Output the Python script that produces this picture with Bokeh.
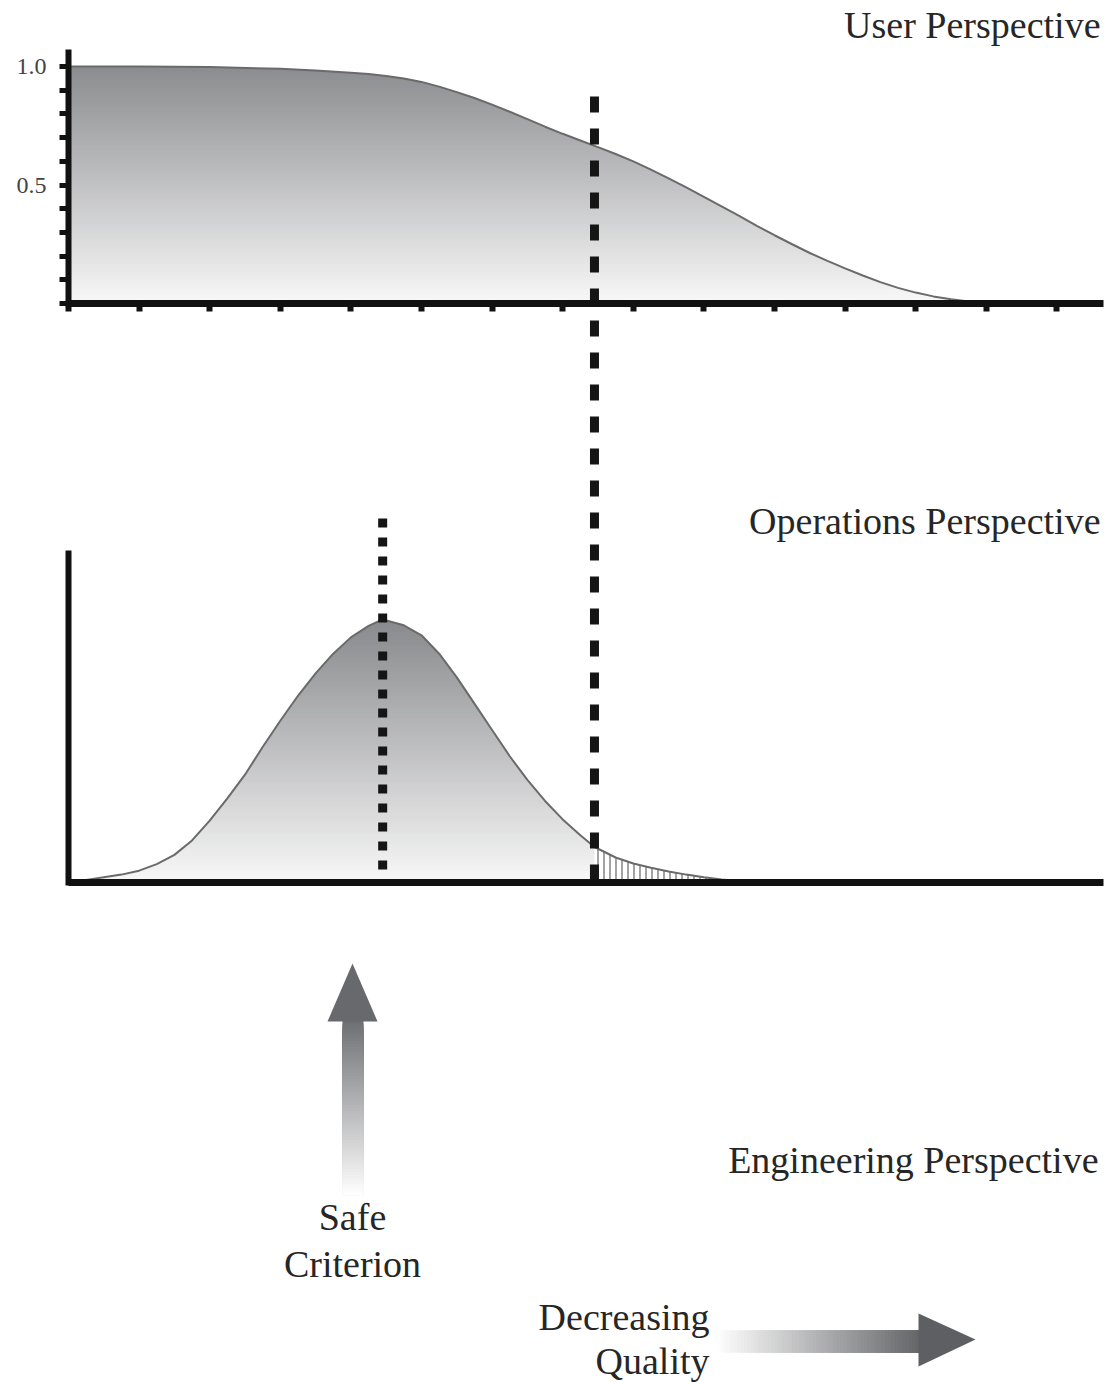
import numpy as np
from bokeh.plotting import figure
from bokeh.models import Range1d, LinearAxis, FixedTicker, NumeralTickFormatter
from bokeh.core.properties import value
from bokeh.embed import file_html
from bokeh.resources import INLINE

# ---------------- data ----------------
# User perspective: probability of acceptance vs. quality (x in tick units)
user_x = [0, 1, 2, 3, 3.5, 4, 4.25, 4.5, 4.75, 5, 5.25, 5.5, 5.75, 6, 6.25,
          6.5, 6.75, 7, 7.25, 7.5, 7.75, 8, 8.25, 8.5, 8.75, 9, 9.25, 9.5,
          9.75, 10, 10.25, 10.5, 10.75, 11, 11.25, 11.5, 11.75, 12, 12.25,
          12.5, 12.75, 13]
user_y = [1.0, 1.0, 0.998, 0.99, 0.983, 0.974, 0.968, 0.96, 0.949, 0.935,
          0.915, 0.892, 0.867, 0.839, 0.809, 0.778, 0.746, 0.716, 0.688, 0.66,
          0.631, 0.60, 0.565, 0.528, 0.49, 0.45, 0.41, 0.37, 0.328, 0.288,
          0.25, 0.213, 0.18, 0.148, 0.118, 0.09, 0.066, 0.046, 0.03, 0.018,
          0.008, 0.0]

# Operations perspective: distribution of quality (relative height)
ops_x = [0, 0.25, 0.5, 0.75, 1.0, 1.25, 1.5, 1.75, 2.0, 2.25, 2.5, 2.75, 3.0,
         3.25, 3.5, 3.75, 4.0, 4.25, 4.45, 4.75, 5.0, 5.25, 5.5, 5.75, 6.0,
         6.25, 6.5, 6.75, 7.0, 7.25, 7.45, 7.75, 8.0, 8.25, 8.5, 8.75, 9.0,
         9.25, 9.5, 9.75, 10.0]
ops_y = [0.0, 0.01, 0.02, 0.03, 0.045, 0.07, 0.105, 0.16, 0.235, 0.32, 0.41,
         0.515, 0.615, 0.71, 0.795, 0.87, 0.932, 0.976, 1.0, 0.978, 0.94,
         0.87, 0.78, 0.68, 0.58, 0.48, 0.39, 0.31, 0.24, 0.18, 0.135, 0.095,
         0.072, 0.056, 0.042, 0.03, 0.02, 0.011, 0.006, 0.002, 0.0]

user_major_ticks = [0.5, 1.0]
user_minor_ticks = [0.0, 0.1, 0.2, 0.3, 0.4, 0.6, 0.7, 0.8, 0.9]
user_x_ticks = list(range(15))

threshold_x = 7.45      # dashed line (user / operations threshold)
safe_x = 4.45           # dotted line (safe criterion)

titles = ["User Perspective", "Operations Perspective", "Engineering Perspective"]
safe_label = ["Safe", "Criterion"]
quality_label = ["Decreasing", "Quality"]

# ---------------- layout helpers ----------------
W, H = 1107, 1382
X0, XU = 68.0, 70.6
def px(xpix):
    return (xpix - X0) / XU

USER_BASE, USER_SCALE = 303.0, 237.0
OPS_BASE, OPS_SCALE = 882.0, 263.0
TXT_DY = -14  # baseline correction

def grey(t, dark=(139, 140, 143), light=(248, 248, 248)):
    c = [int(round(l + (d - l) * t)) for d, l in zip(dark, light)]
    return "#%02x%02x%02x" % tuple(c)

p = figure(width=W, height=H, x_range=Range1d(px(0), px(W)), y_range=Range1d(H, 0),
           x_axis_type=None, y_axis_type=None, toolbar_location=None,
           output_backend="svg", min_border=0, outline_line_color=None)
p.background_fill_color = "white"
p.border_fill_color = "white"
p.extra_y_ranges = {
    "user": Range1d((USER_BASE - H) / USER_SCALE, USER_BASE / USER_SCALE),
    "ops": Range1d((OPS_BASE - H) / OPS_SCALE, OPS_BASE / OPS_SCALE),
}

# ---------------- user panel: gradient area ----------------
N = 90
levels = np.linspace(1.0, 0.0, N, endpoint=False)
cols = [grey(l - 0.5 / N) for l in levels]
p.quad(left=0, right=max(user_x) - 0.04, bottom=0, top=levels, fill_color=cols,
       line_color=None, y_range_name="user")
p.varea(x=user_x, y1=user_y, y2=1.002, fill_color="white", y_range_name="user")
p.line(user_x, user_y, line_color="#6a6a6a", line_width=2, y_range_name="user")

# ---------------- operations panel: gradient area ----------------
levels2 = np.linspace(max(ops_y), 0.0, N, endpoint=False)
cols2 = [grey(l / max(ops_y) - 0.5 / N, dark=(136, 137, 140)) for l in levels2]
p.quad(left=0, right=max(ops_x) - 0.04, bottom=0, top=levels2, fill_color=cols2,
       line_color=None, y_range_name="ops")
p.varea(x=ops_x, y1=ops_y, y2=max(ops_y) + 0.002, fill_color="white", y_range_name="ops")
ox = np.array(ops_x); oy = np.array(ops_y)
sel = ox >= threshold_x
p.varea(x=ox[sel], y1=0, y2=oy[sel], fill_color="white",
        hatch_pattern="vertical_line", hatch_color="#7c7c7c", hatch_scale=6,
        hatch_weight=1.4, y_range_name="ops")
p.line(ops_x, ops_y, line_color="#6a6a6a", line_width=2, y_range_name="ops")

# ---------------- vertical markers ----------------
p.segment(x0=[threshold_x], y0=[96], x1=[threshold_x], y1=[882], line_width=9,
          line_dash="16 16", line_color="#151515")
p.segment(x0=[safe_x], y0=[518], x1=[safe_x], y1=[879], line_width=9,
          line_dash="9 10", line_color="#151515")

# ---------------- axes ----------------
ay = LinearAxis(y_range_name="user", fixed_location=0, bounds=(0, 1.06),
                ticker=FixedTicker(ticks=user_major_ticks, minor_ticks=user_minor_ticks),
                formatter=NumeralTickFormatter(format="0.0"))
ay.axis_line_width = 6
ay.axis_line_color = "#111111"
ay.axis_line_cap = "square"
ay.major_tick_line_width = 5
ay.minor_tick_line_width = 5
ay.major_tick_line_color = "#111111"
ay.minor_tick_line_color = "#111111"
ay.major_tick_out = 9
ay.major_tick_in = 0
ay.minor_tick_out = 9
ay.minor_tick_in = 0
ay.major_label_standoff = 13
ay.major_label_text_font = "Liberation Serif"
ay.major_label_text_font_size = "24px"
ay.major_label_text_color = "#444444"
p.add_layout(ay, "left")

ax = LinearAxis(y_range_name="user", fixed_location=0, bounds=(0, px(1103)),
                ticker=FixedTicker(ticks=user_x_ticks, minor_ticks=[]),
                major_label_overrides={t: "" for t in user_x_ticks})
ax.axis_line_width = 7
ax.axis_line_color = "#111111"
ax.major_tick_line_width = 6
ax.major_tick_line_color = "#111111"
ax.major_tick_out = 8
ax.major_tick_in = 0
ax.minor_tick_line_color = None
p.add_layout(ax, "below")

by = LinearAxis(y_range_name="ops", fixed_location=0, bounds=(0, 1.25),
                ticker=FixedTicker(ticks=[], minor_ticks=[]))
by.axis_line_width = 6
by.axis_line_color = "#111111"
by.axis_line_cap = "square"
by.major_tick_line_color = None
by.minor_tick_line_color = None
p.add_layout(by, "left")

bx = LinearAxis(y_range_name="ops", fixed_location=0, bounds=(0, px(1103)),
                ticker=FixedTicker(ticks=[], minor_ticks=[]))
bx.axis_line_width = 7
bx.axis_line_color = "#111111"
bx.major_tick_line_color = None
bx.minor_tick_line_color = None
p.add_layout(bx, "below")

# ---------------- arrows ----------------
M = 60
# up arrow (safe criterion)
sh_top, sh_bot = 1020.0, 1195.0
tops = sh_top + np.arange(M) * (sh_bot - sh_top) / M
ucols = [grey(1 - (i + 0.5) / M, dark=(110, 111, 114), light=(255, 255, 255)) for i in range(M)]
p.quad(left=px(342), right=px(363), top=tops, bottom=sh_bot, fill_color=ucols, line_color=None)
p.patch(x=[px(327), px(377), px(352)], y=[1021, 1021, 963], fill_color="#68696c", line_color=None)

# right arrow (decreasing quality)
l0, r0 = px(716), px(922)
lefts = l0 + np.arange(M) * (r0 - l0) / M
rcols = [grey((i + 0.5) / M, dark=(98, 99, 102), light=(255, 255, 255)) for i in range(M)]
p.quad(left=lefts, right=r0, top=1330, bottom=1352, fill_color=rcols, line_color=None)
p.patch(x=[px(918), px(918), px(975)], y=[1313, 1366, 1339], fill_color="#5e5f62", line_color=None)

# ---------------- texts ----------------
font = value("Liberation Serif")
p.text(x=[px(1100), px(1100), px(1098)], y=[38 + TXT_DY, 534 + TXT_DY, 1173 + TXT_DY],
       text=titles, text_font=font, text_font_size="38px", text_align="right",
       text_baseline="alphabetic", text_color="#262626")
p.text(x=[px(352), px(352)], y=[1230 + TXT_DY, 1277 + TXT_DY], text=safe_label,
       text_font=font, text_font_size="38px", text_align="center",
       text_baseline="alphabetic", text_color="#262626")
p.text(x=[px(709), px(709)], y=[1330 + TXT_DY, 1374 + TXT_DY], text=quality_label,
       text_font=font, text_font_size="38px", text_align="right",
       text_baseline="alphabetic", text_color="#262626")

open("out.html", "w").write(file_html(p, INLINE))
